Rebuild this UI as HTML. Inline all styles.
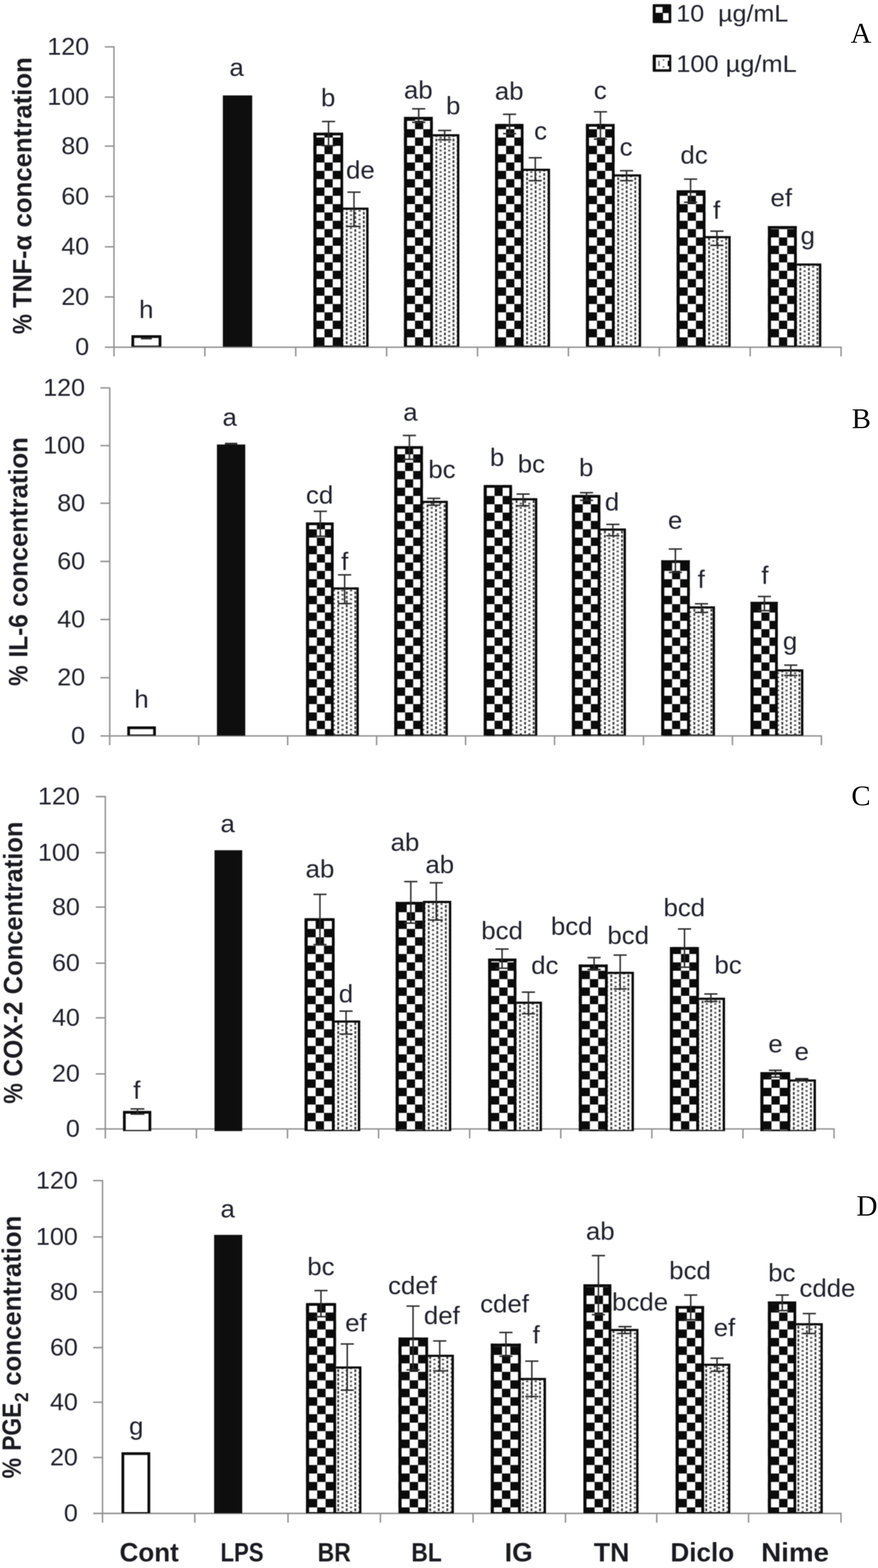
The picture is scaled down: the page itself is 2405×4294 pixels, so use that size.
<!DOCTYPE html>
<html lang="en">
<head>
<meta charset="utf-8">
<title>Cytokine concentration bar charts</title>
<style>
html,body{margin:0;padding:0;background:#fff;}
body{width:2405px;height:4294px;overflow:hidden;font-family:"Liberation Sans", "DejaVu Sans", sans-serif;}
svg{display:block;}
text{white-space:pre;}
</style>
</head>
<body>
<svg width="2405" height="4294" viewBox="0 0 2405 4294">
<defs>
<pattern id="cka" patternUnits="userSpaceOnUse" width="45.2" height="45.6"><rect width="45.2" height="45.6" fill="#fff"/><rect x="22.6" y="0" width="22.6" height="22.8" fill="#0b0b0b"/><rect x="0" y="22.8" width="22.6" height="22.8" fill="#0b0b0b"/></pattern>
<pattern id="dta" patternUnits="userSpaceOnUse" width="23.4" height="11.8"><rect width="23.4" height="11.8" fill="#fff"/><rect x="0" y="0" width="5" height="7.3" fill="#3a3a3a"/><rect x="11.2" y="6.6" width="6" height="4.7" fill="#555"/></pattern>
<pattern id="ckb" patternUnits="userSpaceOnUse" width="44.2" height="45.6"><rect width="44.2" height="45.6" fill="#fff"/><rect x="22.1" y="0" width="22.1" height="22.8" fill="#0b0b0b"/><rect x="0" y="22.8" width="22.1" height="22.8" fill="#0b0b0b"/></pattern>
<pattern id="dtb" patternUnits="userSpaceOnUse" width="23.4" height="11.9"><rect width="23.4" height="11.9" fill="#fff"/><rect x="0" y="0" width="5" height="7.4" fill="#3a3a3a"/><rect x="11.2" y="6.7" width="6" height="4.8" fill="#555"/></pattern>
<pattern id="ckc" patternUnits="userSpaceOnUse" width="45.4" height="45.8"><rect width="45.4" height="45.8" fill="#fff"/><rect x="22.7" y="0" width="22.7" height="22.9" fill="#0b0b0b"/><rect x="0" y="22.9" width="22.7" height="22.9" fill="#0b0b0b"/></pattern>
<pattern id="dtc" patternUnits="userSpaceOnUse" width="23.4" height="11.9"><rect width="23.4" height="11.9" fill="#fff"/><rect x="0" y="0" width="5" height="7.4" fill="#3a3a3a"/><rect x="11.2" y="6.7" width="6" height="4.8" fill="#555"/></pattern>
<pattern id="ckd" patternUnits="userSpaceOnUse" width="46" height="46.4"><rect width="46" height="46.4" fill="#fff"/><rect x="23" y="0" width="23" height="23.2" fill="#0b0b0b"/><rect x="0" y="23.2" width="23" height="23.2" fill="#0b0b0b"/></pattern>
<pattern id="dtd" patternUnits="userSpaceOnUse" width="23.4" height="11.9"><rect width="23.4" height="11.9" fill="#fff"/><rect x="0" y="0" width="5" height="7.4" fill="#3a3a3a"/><rect x="11.2" y="6.7" width="6" height="4.8" fill="#555"/></pattern>
<filter id="soft" color-interpolation-filters="sRGB"><feGaussianBlur stdDeviation="0.9"/></filter>
</defs>
<rect width="2405" height="4294" fill="#fff"/>
<g id="panel-a" filter="url(#soft)">
<path d="M312.2 126.5V975.9M287.2 950.9H2305.7M287.2 813.1H312.2M287.2 675.9H312.2M287.2 538.2H312.2M287.2 400.2H312.2M287.2 265.8H312.2M287.2 128.4H312.2M561.1 950.9V975.9M810.1 950.9V975.9M1059 950.9V975.9M1308 950.9V975.9M1557 950.9V975.9M1805.9 950.9V975.9M2054.8 950.9V975.9M2303.8 950.9V975.9" stroke="#8e8e8e" stroke-width="3.8" fill="none"/>
<rect x="360" y="918" width="82" height="31.5" fill="#fff"/>
<path d="M360 918H442V949.5H360ZM367.5 925.5V946.5H434.5V925.5Z" fill="#0a0a0a" fill-rule="evenodd"/>
<rect x="610.4" y="261.3" width="80.4" height="688.2" fill="#0e0e0e"/>
<g transform="translate(947.3 757.4)"><rect x="-13.3" y="-188.9" width="75.5" height="381" fill="url(#dta)"/></g>
<path d="M934 568.5H1009.5V949.5H934ZM940 574.5V946.5H1003V574.5Z" fill="#0a0a0a" fill-rule="evenodd"/>
<g transform="translate(866.2 901)"><rect x="-7.7" y="-537.7" width="81.5" height="586.2" fill="url(#cka)"/></g>
<path d="M858.5 363.3H940V949.5H858.5ZM867 370.8V946.5H932.5V370.8Z" fill="#0a0a0a" fill-rule="evenodd"/>
<g transform="translate(1192.8 757.4)"><rect x="-13.3" y="-389.9" width="78.8" height="582" fill="url(#dta)"/></g>
<path d="M1179.5 367.5H1258.3V949.5H1179.5ZM1185.5 373.5V946.5H1251.8V373.5Z" fill="#0a0a0a" fill-rule="evenodd"/>
<g transform="translate(1091.6 901)"><rect x="14.9" y="-581" width="79" height="629.5" fill="url(#cka)"/></g>
<path d="M1106.5 320H1185.5V949.5H1106.5ZM1115 327.5V946.5H1178V327.5Z" fill="#0a0a0a" fill-rule="evenodd"/>
<g transform="translate(1441.3 757.4)"><rect x="-13.3" y="-295.4" width="78.7" height="487.5" fill="url(#dta)"/></g>
<path d="M1428 462H1506.7V949.5H1428ZM1434 468V946.5H1500.2V468Z" fill="#0a0a0a" fill-rule="evenodd"/>
<g transform="translate(1363.7 901)"><rect x="-7.7" y="-561.5" width="78" height="610" fill="url(#cka)"/></g>
<path d="M1356 339.5H1434V949.5H1356ZM1364.5 347V946.5H1426.5V347Z" fill="#0a0a0a" fill-rule="evenodd"/>
<g transform="translate(1690.8 757.4)"><rect x="-13.3" y="-279.9" width="78.7" height="472" fill="url(#dta)"/></g>
<path d="M1677.5 477.5H1756.2V949.5H1677.5ZM1683.5 483.5V946.5H1749.7V483.5Z" fill="#0a0a0a" fill-rule="evenodd"/>
<g transform="translate(1590 901)"><rect x="14.9" y="-561.5" width="78.6" height="610" fill="url(#cka)"/></g>
<path d="M1604.9 339.5H1683.5V949.5H1604.9ZM1613.4 347V946.5H1676V347Z" fill="#0a0a0a" fill-rule="evenodd"/>
<g transform="translate(1939.8 757.4)"><rect x="-13.3" y="-110.9" width="74.9" height="303" fill="url(#dta)"/></g>
<path d="M1926.5 646.5H2001.4V949.5H1926.5ZM1932.5 652.5V946.5H1994.9V652.5Z" fill="#0a0a0a" fill-rule="evenodd"/>
<g transform="translate(1861.1 901)"><rect x="-7.7" y="-380" width="79.1" height="428.5" fill="url(#cka)"/></g>
<path d="M1853.4 521H1932.5V949.5H1853.4ZM1861.9 528.5V946.5H1925V528.5Z" fill="#0a0a0a" fill-rule="evenodd"/>
<g transform="translate(2189.8 757.4)"><rect x="-13.3" y="-35.9" width="73.2" height="228" fill="url(#dta)"/></g>
<path d="M2176.5 721.5H2249.7V949.5H2176.5ZM2182.5 727.5V946.5H2243.2V727.5Z" fill="#0a0a0a" fill-rule="evenodd"/>
<g transform="translate(2088.5 901)"><rect x="14.9" y="-282" width="79.1" height="330.5" fill="url(#cka)"/></g>
<path d="M2103.4 619H2182.5V949.5H2103.4ZM2111.9 626.5V946.5H2175V626.5Z" fill="#0a0a0a" fill-rule="evenodd"/>
<path d="M401 926.5V927.5M386 926.5H416M386 927.5H416" stroke="#2b2b2b" stroke-width="4" fill="none"/>
<path d="M899.9 332.8V399M881.9 332.8H917.9M881.9 399H917.9" stroke="#2b2b2b" stroke-width="4" fill="none"/>
<path d="M969.6 526.3V620M951.6 526.3H987.6M951.6 620H987.6" stroke="#2b2b2b" stroke-width="4" fill="none"/>
<path d="M1146.9 297.9V335M1128.9 297.9H1164.9M1128.9 335H1164.9" stroke="#2b2b2b" stroke-width="4" fill="none"/>
<path d="M1217.9 357.2V382.7M1199.9 357.2H1235.9M1199.9 382.7H1235.9" stroke="#2b2b2b" stroke-width="4" fill="none"/>
<path d="M1395.8 312.9V366M1377.8 312.9H1413.8M1377.8 366H1413.8" stroke="#2b2b2b" stroke-width="4" fill="none"/>
<path d="M1466.2 432V494.7M1448.2 432H1484.2M1448.2 494.7H1484.2" stroke="#2b2b2b" stroke-width="4" fill="none"/>
<path d="M1644.7 306.2V381M1626.7 306.2H1662.7M1626.7 381H1662.7" stroke="#2b2b2b" stroke-width="4" fill="none"/>
<path d="M1716.2 467.5V494.7M1698.2 467.5H1734.2M1698.2 494.7H1734.2" stroke="#2b2b2b" stroke-width="4" fill="none"/>
<path d="M1891.6 490.6V554M1873.6 490.6H1909.6M1873.6 554H1909.6" stroke="#2b2b2b" stroke-width="4" fill="none"/>
<path d="M1963.7 633V671.9M1945.7 633H1981.7M1945.7 671.9H1981.7" stroke="#2b2b2b" stroke-width="4" fill="none"/>
<text x="206" y="972.4" font-size="66" font-family='"Liberation Sans", "DejaVu Sans", sans-serif' fill="#21222d" textLength="38.2" lengthAdjust="spacingAndGlyphs">0</text>
<text x="167.9" y="834.6" font-size="66" font-family='"Liberation Sans", "DejaVu Sans", sans-serif' fill="#21222d" textLength="76.4" lengthAdjust="spacingAndGlyphs">20</text>
<text x="167.9" y="697.4" font-size="66" font-family='"Liberation Sans", "DejaVu Sans", sans-serif' fill="#21222d" textLength="76.4" lengthAdjust="spacingAndGlyphs">40</text>
<text x="167.9" y="559.7" font-size="66" font-family='"Liberation Sans", "DejaVu Sans", sans-serif' fill="#21222d" textLength="76.4" lengthAdjust="spacingAndGlyphs">60</text>
<text x="167.9" y="421.7" font-size="66" font-family='"Liberation Sans", "DejaVu Sans", sans-serif' fill="#21222d" textLength="76.4" lengthAdjust="spacingAndGlyphs">80</text>
<text x="129.6" y="287.3" font-size="66" font-family='"Liberation Sans", "DejaVu Sans", sans-serif' fill="#21222d" textLength="114.5" lengthAdjust="spacingAndGlyphs">100</text>
<text x="129.6" y="149.9" font-size="66" font-family='"Liberation Sans", "DejaVu Sans", sans-serif' fill="#21222d" textLength="114.5" lengthAdjust="spacingAndGlyphs">120</text>
<text x="380.9" y="870.5" font-size="68" font-family='"Liberation Sans", "DejaVu Sans", sans-serif' fill="#21222d" textLength="39.3" lengthAdjust="spacingAndGlyphs">h</text>
<text x="628.5" y="208" font-size="68" font-family='"Liberation Sans", "DejaVu Sans", sans-serif' fill="#21222d" textLength="39.3" lengthAdjust="spacingAndGlyphs">a</text>
<text x="879.2" y="291.2" font-size="68" font-family='"Liberation Sans", "DejaVu Sans", sans-serif' fill="#21222d" textLength="39.3" lengthAdjust="spacingAndGlyphs">b</text>
<text x="947.8" y="489.2" font-size="68" font-family='"Liberation Sans", "DejaVu Sans", sans-serif' fill="#21222d" textLength="78.7" lengthAdjust="spacingAndGlyphs">de</text>
<text x="1106.5" y="270.2" font-size="68" font-family='"Liberation Sans", "DejaVu Sans", sans-serif' fill="#21222d" textLength="78.7" lengthAdjust="spacingAndGlyphs">ab</text>
<text x="1221.7" y="313.4" font-size="68" font-family='"Liberation Sans", "DejaVu Sans", sans-serif' fill="#21222d" textLength="39.3" lengthAdjust="spacingAndGlyphs">b</text>
<text x="1355.4" y="273" font-size="68" font-family='"Liberation Sans", "DejaVu Sans", sans-serif' fill="#21222d" textLength="78.7" lengthAdjust="spacingAndGlyphs">ab</text>
<text x="1463" y="381.6" font-size="68" font-family='"Liberation Sans", "DejaVu Sans", sans-serif' fill="#21222d" textLength="35.4" lengthAdjust="spacingAndGlyphs">c</text>
<text x="1626.6" y="271" font-size="68" font-family='"Liberation Sans", "DejaVu Sans", sans-serif' fill="#21222d" textLength="35.4" lengthAdjust="spacingAndGlyphs">c</text>
<text x="1697.3" y="425.5" font-size="68" font-family='"Liberation Sans", "DejaVu Sans", sans-serif' fill="#21222d" textLength="35.4" lengthAdjust="spacingAndGlyphs">c</text>
<text x="1863.8" y="447.9" font-size="68" font-family='"Liberation Sans", "DejaVu Sans", sans-serif' fill="#21222d" textLength="74.7" lengthAdjust="spacingAndGlyphs">dc</text>
<text x="1953.3" y="598.7" font-size="68" font-family='"Liberation Sans", "DejaVu Sans", sans-serif' fill="#21222d" textLength="19.6" lengthAdjust="spacingAndGlyphs">f</text>
<text x="2110.6" y="565.4" font-size="68" font-family='"Liberation Sans", "DejaVu Sans", sans-serif' fill="#21222d" textLength="59" lengthAdjust="spacingAndGlyphs">ef</text>
<text x="2193.1" y="669" font-size="68" font-family='"Liberation Sans", "DejaVu Sans", sans-serif' fill="#21222d" textLength="39.3" lengthAdjust="spacingAndGlyphs">g</text>
<text transform="translate(86 915) rotate(-90)" font-size="72" font-weight="bold" font-family='"Liberation Sans", "DejaVu Sans", sans-serif' fill="#1b1b22" textLength="54.9" lengthAdjust="spacingAndGlyphs">%</text>
<text transform="translate(86 843.3) rotate(-90)" font-size="72" font-weight="bold" font-family='"Liberation Sans", "DejaVu Sans", sans-serif' fill="#1b1b22" textLength="199.8" lengthAdjust="spacingAndGlyphs">TNF-α</text>
<text transform="translate(86 623) rotate(-90)" font-size="72" font-weight="bold" font-family='"Liberation Sans", "DejaVu Sans", sans-serif' fill="#1b1b22" textLength="466.4" lengthAdjust="spacingAndGlyphs">concentration</text>
</g>
<g id="panel-b" filter="url(#soft)">
<path d="M300.6 1060.5V2040.8M275.1 2015.3H2251.9M275.1 1855.8H300.6M275.1 1696.5H300.6M275.1 1537.5H300.6M275.1 1378.2H300.6M275.1 1220.3H300.6M275.1 1062.4H300.6M544.3 2015.3V2040.8M788 2015.3V2040.8M1031.6 2015.3V2040.8M1275.3 2015.3V2040.8M1519 2015.3V2040.8M1762.7 2015.3V2040.8M2006.3 2015.3V2040.8M2250 2015.3V2040.8" stroke="#8e8e8e" stroke-width="3.8" fill="none"/>
<rect x="348.6" y="1989.2" width="78.4" height="25.3" fill="#fff"/>
<path d="M348.6 1989.2H427V2014.5H348.6ZM356.1 1996.7V2011.5H419.5V1996.7Z" fill="#0a0a0a" fill-rule="evenodd"/>
<rect x="594.2" y="1217.3" width="77.6" height="797.2" fill="#0e0e0e"/>
<g transform="translate(923.9 1620)"><rect x="-15.9" y="-11.4" width="74.8" height="405.9" fill="url(#dtb)"/></g>
<path d="M908 1608.6H982.8V2014.5H908ZM914 1614.6V2011.5H976.3V1614.6Z" fill="#0a0a0a" fill-rule="evenodd"/>
<g transform="translate(845.9 1472.2)"><rect x="-7.7" y="-41.5" width="75.8" height="583.8" fill="url(#ckb)"/></g>
<path d="M838.2 1430.7H914V2014.5H838.2ZM846.7 1438.2V2011.5H906.5V1438.2Z" fill="#0a0a0a" fill-rule="evenodd"/>
<g transform="translate(1168.4 1620)"><rect x="-15.9" y="-248.6" width="74.2" height="643.1" fill="url(#dtb)"/></g>
<path d="M1152.5 1371.4H1226.7V2014.5H1152.5ZM1158.5 1377.4V2011.5H1220.2V1377.4Z" fill="#0a0a0a" fill-rule="evenodd"/>
<g transform="translate(1065.5 1472.2)"><rect x="14.4" y="-250.5" width="78.6" height="792.8" fill="url(#ckb)"/></g>
<path d="M1079.9 1221.7H1158.5V2014.5H1079.9ZM1088.4 1229.2V2011.5H1151V1229.2Z" fill="#0a0a0a" fill-rule="evenodd"/>
<g transform="translate(1412.4 1620)"><rect x="-15.9" y="-255.8" width="75.2" height="650.3" fill="url(#dtb)"/></g>
<path d="M1396.5 1364.2H1471.7V2014.5H1396.5ZM1402.5 1370.2V2011.5H1465.2V1370.2Z" fill="#0a0a0a" fill-rule="evenodd"/>
<g transform="translate(1332.6 1472.2)"><rect x="-7.7" y="-144" width="77.6" height="686.3" fill="url(#ckb)"/></g>
<path d="M1324.9 1328.2H1402.5V2014.5H1324.9ZM1333.4 1335.7V2011.5H1395V1335.7Z" fill="#0a0a0a" fill-rule="evenodd"/>
<g transform="translate(1654.4 1620)"><rect x="-15.9" y="-172.8" width="76" height="567.3" fill="url(#dtb)"/></g>
<path d="M1638.5 1447.2H1714.5V2014.5H1638.5ZM1644.5 1453.2V2011.5H1708V1453.2Z" fill="#0a0a0a" fill-rule="evenodd"/>
<g transform="translate(1552.2 1472.2)"><rect x="14.4" y="-116.6" width="77.9" height="658.9" fill="url(#ckb)"/></g>
<path d="M1566.6 1355.6H1644.5V2014.5H1566.6ZM1575.1 1363.1V2011.5H1637V1363.1Z" fill="#0a0a0a" fill-rule="evenodd"/>
<g transform="translate(1899.4 1620)"><rect x="-15.9" y="40.4" width="74.9" height="354.1" fill="url(#dtb)"/></g>
<path d="M1883.5 1660.4H1958.4V2014.5H1883.5ZM1889.5 1666.4V2011.5H1951.9V1666.4Z" fill="#0a0a0a" fill-rule="evenodd"/>
<g transform="translate(1818.9 1472.2)"><rect x="-7.7" y="62.1" width="78.3" height="480.2" fill="url(#ckb)"/></g>
<path d="M1811.2 1534.3H1889.5V2014.5H1811.2ZM1819.7 1541.8V2011.5H1882V1541.8Z" fill="#0a0a0a" fill-rule="evenodd"/>
<g transform="translate(2140.4 1620)"><rect x="-15.9" y="212.9" width="76" height="181.6" fill="url(#dtb)"/></g>
<path d="M2124.5 1832.9H2200.5V2014.5H2124.5ZM2130.5 1838.9V2011.5H2194V1838.9Z" fill="#0a0a0a" fill-rule="evenodd"/>
<g transform="translate(2041.4 1472.2)"><rect x="14.4" y="175.7" width="74.7" height="366.6" fill="url(#ckb)"/></g>
<path d="M2055.8 1647.9H2130.5V2014.5H2055.8ZM2064.3 1655.4V2011.5H2123V1655.4Z" fill="#0a0a0a" fill-rule="evenodd"/>
<path d="M633 1214.5V1216M616 1214.5H650M616 1216H650" stroke="#2b2b2b" stroke-width="4" fill="none"/>
<path d="M877.5 1400.2V1468.4M859.5 1400.2H895.5M859.5 1468.4H895.5" stroke="#2b2b2b" stroke-width="4" fill="none"/>
<path d="M944 1574.3V1653M926 1574.3H962M926 1653H962" stroke="#2b2b2b" stroke-width="4" fill="none"/>
<path d="M1121.4 1192.4V1257.8M1103.4 1192.4H1139.4M1103.4 1257.8H1139.4" stroke="#2b2b2b" stroke-width="4" fill="none"/>
<path d="M1187.9 1364.7V1383.6M1169.9 1364.7H1205.9M1169.9 1383.6H1205.9" stroke="#2b2b2b" stroke-width="4" fill="none"/>
<path d="M1432.9 1353.1V1385.3M1414.9 1353.1H1450.9M1414.9 1385.3H1450.9" stroke="#2b2b2b" stroke-width="4" fill="none"/>
<path d="M1606.6 1349.3V1370M1588.6 1349.3H1624.6M1588.6 1370H1624.6" stroke="#2b2b2b" stroke-width="4" fill="none"/>
<path d="M1678.7 1435.9V1467.2M1660.7 1435.9H1696.7M1660.7 1467.2H1696.7" stroke="#2b2b2b" stroke-width="4" fill="none"/>
<path d="M1850 1503.6V1567.6M1832 1503.6H1868M1832 1567.6H1868" stroke="#2b2b2b" stroke-width="4" fill="none"/>
<path d="M1921.4 1653.5V1677.3M1903.4 1653.5H1939.4M1903.4 1677.3H1939.4" stroke="#2b2b2b" stroke-width="4" fill="none"/>
<path d="M2093.9 1633.4V1672.3M2075.9 1633.4H2111.9M2075.9 1672.3H2111.9" stroke="#2b2b2b" stroke-width="4" fill="none"/>
<path d="M2166 1821.6V1849.8M2148 1821.6H2184M2148 1849.8H2184" stroke="#2b2b2b" stroke-width="4" fill="none"/>
<text x="194.8" y="2036.8" font-size="66" font-family='"Liberation Sans", "DejaVu Sans", sans-serif' fill="#21222d" textLength="38.2" lengthAdjust="spacingAndGlyphs">0</text>
<text x="156.7" y="1877.3" font-size="66" font-family='"Liberation Sans", "DejaVu Sans", sans-serif' fill="#21222d" textLength="76.4" lengthAdjust="spacingAndGlyphs">20</text>
<text x="156.7" y="1718" font-size="66" font-family='"Liberation Sans", "DejaVu Sans", sans-serif' fill="#21222d" textLength="76.4" lengthAdjust="spacingAndGlyphs">40</text>
<text x="156.7" y="1559" font-size="66" font-family='"Liberation Sans", "DejaVu Sans", sans-serif' fill="#21222d" textLength="76.4" lengthAdjust="spacingAndGlyphs">60</text>
<text x="156.7" y="1399.7" font-size="66" font-family='"Liberation Sans", "DejaVu Sans", sans-serif' fill="#21222d" textLength="76.4" lengthAdjust="spacingAndGlyphs">80</text>
<text x="118.4" y="1241.8" font-size="66" font-family='"Liberation Sans", "DejaVu Sans", sans-serif' fill="#21222d" textLength="114.5" lengthAdjust="spacingAndGlyphs">100</text>
<text x="118.4" y="1083.9" font-size="66" font-family='"Liberation Sans", "DejaVu Sans", sans-serif' fill="#21222d" textLength="114.5" lengthAdjust="spacingAndGlyphs">120</text>
<text x="368.1" y="1937.9" font-size="68" font-family='"Liberation Sans", "DejaVu Sans", sans-serif' fill="#21222d" textLength="39.3" lengthAdjust="spacingAndGlyphs">h</text>
<text x="609.6" y="1166.3" font-size="68" font-family='"Liberation Sans", "DejaVu Sans", sans-serif' fill="#21222d" textLength="39.3" lengthAdjust="spacingAndGlyphs">a</text>
<text x="838.1" y="1378.6" font-size="68" font-family='"Liberation Sans", "DejaVu Sans", sans-serif' fill="#21222d" textLength="74.7" lengthAdjust="spacingAndGlyphs">cd</text>
<text x="934.6" y="1560.5" font-size="68" font-family='"Liberation Sans", "DejaVu Sans", sans-serif' fill="#21222d" textLength="19.6" lengthAdjust="spacingAndGlyphs">f</text>
<text x="1104.6" y="1152.4" font-size="68" font-family='"Liberation Sans", "DejaVu Sans", sans-serif' fill="#21222d" textLength="39.3" lengthAdjust="spacingAndGlyphs">a</text>
<text x="1173.2" y="1309.3" font-size="68" font-family='"Liberation Sans", "DejaVu Sans", sans-serif' fill="#21222d" textLength="74.7" lengthAdjust="spacingAndGlyphs">bc</text>
<text x="1342" y="1275.5" font-size="68" font-family='"Liberation Sans", "DejaVu Sans", sans-serif' fill="#21222d" textLength="39.3" lengthAdjust="spacingAndGlyphs">b</text>
<text x="1418.2" y="1293.8" font-size="68" font-family='"Liberation Sans", "DejaVu Sans", sans-serif' fill="#21222d" textLength="74.7" lengthAdjust="spacingAndGlyphs">bc</text>
<text x="1586.1" y="1304.2" font-size="68" font-family='"Liberation Sans", "DejaVu Sans", sans-serif' fill="#21222d" textLength="39.3" lengthAdjust="spacingAndGlyphs">b</text>
<text x="1656.7" y="1398.2" font-size="68" font-family='"Liberation Sans", "DejaVu Sans", sans-serif' fill="#21222d" textLength="39.3" lengthAdjust="spacingAndGlyphs">d</text>
<text x="1829.7" y="1448.4" font-size="68" font-family='"Liberation Sans", "DejaVu Sans", sans-serif' fill="#21222d" textLength="39.3" lengthAdjust="spacingAndGlyphs">e</text>
<text x="1911" y="1609.6" font-size="68" font-family='"Liberation Sans", "DejaVu Sans", sans-serif' fill="#21222d" textLength="19.6" lengthAdjust="spacingAndGlyphs">f</text>
<text x="2085.4" y="1598.9" font-size="68" font-family='"Liberation Sans", "DejaVu Sans", sans-serif' fill="#21222d" textLength="19.6" lengthAdjust="spacingAndGlyphs">f</text>
<text x="2144.6" y="1779" font-size="68" font-family='"Liberation Sans", "DejaVu Sans", sans-serif' fill="#21222d" textLength="39.3" lengthAdjust="spacingAndGlyphs">g</text>
<text transform="translate(74.6 1878.3) rotate(-90)" font-size="72" font-weight="bold" font-family='"Liberation Sans", "DejaVu Sans", sans-serif' fill="#1b1b22" textLength="56.2" lengthAdjust="spacingAndGlyphs">%</text>
<text transform="translate(74.6 1800.6) rotate(-90)" font-size="72" font-weight="bold" font-family='"Liberation Sans", "DejaVu Sans", sans-serif' fill="#1b1b22" textLength="118.8" lengthAdjust="spacingAndGlyphs">IL-6</text>
<text transform="translate(74.6 1661.8) rotate(-90)" font-size="72" font-weight="bold" font-family='"Liberation Sans", "DejaVu Sans", sans-serif' fill="#1b1b22" textLength="464.8" lengthAdjust="spacingAndGlyphs">concentration</text>
</g>
<g id="panel-c" filter="url(#soft)">
<path d="M288.5 2179.6V3117.7M262.5 3091.7H2286.5M262.5 2940.9H288.5M262.5 2787.4H288.5M262.5 2637.7H288.5M262.5 2484.2H288.5M262.5 2335H288.5M262.5 2181.5H288.5M538 3091.7V3117.7M787.5 3091.7V3117.7M1037 3091.7V3117.7M1286.5 3091.7V3117.7M1536.1 3091.7V3117.7M1785.6 3091.7V3117.7M2035.1 3091.7V3117.7M2284.6 3091.7V3117.7" stroke="#8e8e8e" stroke-width="3.8" fill="none"/>
<rect x="336.9" y="3042.2" width="77.5" height="55.3" fill="#fff"/>
<path d="M336.9 3042.2H414.4V3097.5H336.9ZM344.4 3049.7V3094.5H406.9V3049.7Z" fill="#0a0a0a" fill-rule="evenodd"/>
<rect x="587.6" y="2328.4" width="75.9" height="769.1" fill="#0e0e0e"/>
<g transform="translate(923.9 2800)"><rect x="-13.4" y="-5.4" width="76.2" height="302.9" fill="url(#dtc)"/></g>
<path d="M910.5 2794.6H986.7V3097.5H910.5ZM916.5 2800.6V3094.5H980.2V2800.6Z" fill="#0a0a0a" fill-rule="evenodd"/>
<g transform="translate(842 2566.8)"><rect x="-7.7" y="-52.2" width="82.2" height="582.9" fill="url(#ckc)"/></g>
<path d="M834.3 2514.6H916.5V3097.5H834.3ZM842.8 2522.1V3094.5H909V2522.1Z" fill="#0a0a0a" fill-rule="evenodd"/>
<g transform="translate(1068.8 2566.8)"><rect x="15" y="-97.1" width="80.7" height="627.8" fill="url(#ckc)"/></g>
<path d="M1083.8 2469.7H1164.5V3097.5H1083.8ZM1092.3 2477.2V3094.5H1157V2477.2Z" fill="#0a0a0a" fill-rule="evenodd"/>
<g transform="translate(1171.9 2800)"><rect x="-13.4" y="-333" width="77.6" height="630.5" fill="url(#dtc)"/></g>
<path d="M1158.5 2467H1236.1V3097.5H1158.5ZM1164.5 2473V3094.5H1229.6V2473Z" fill="#0a0a0a" fill-rule="evenodd"/>
<g transform="translate(1421.9 2800)"><rect x="-13.4" y="-57" width="76" height="354.5" fill="url(#dtc)"/></g>
<path d="M1408.5 2743H1484.5V3097.5H1408.5ZM1414.5 2749V3094.5H1478V2749Z" fill="#0a0a0a" fill-rule="evenodd"/>
<g transform="translate(1344.8 2566.8)"><rect x="-7.7" y="58.2" width="77.4" height="472.5" fill="url(#ckc)"/></g>
<path d="M1337.1 2625H1414.5V3097.5H1337.1ZM1345.6 2632.5V3094.5H1407V2632.5Z" fill="#0a0a0a" fill-rule="evenodd"/>
<g transform="translate(1671.9 2800)"><rect x="-13.4" y="-138.7" width="77.9" height="436.2" fill="url(#dtc)"/></g>
<path d="M1658.5 2661.3H1736.4V3097.5H1658.5ZM1664.5 2667.3V3094.5H1729.9V2667.3Z" fill="#0a0a0a" fill-rule="evenodd"/>
<g transform="translate(1570.4 2566.8)"><rect x="15" y="74.4" width="79.1" height="456.3" fill="url(#ckc)"/></g>
<path d="M1585.4 2641.2H1664.5V3097.5H1585.4ZM1593.9 2648.7V3094.5H1657V2648.7Z" fill="#0a0a0a" fill-rule="evenodd"/>
<g transform="translate(1921.9 2800)"><rect x="-13.4" y="-67.8" width="77.5" height="365.3" fill="url(#dtc)"/></g>
<path d="M1908.5 2732.2H1986V3097.5H1908.5ZM1914.5 2738.2V3094.5H1979.5V2738.2Z" fill="#0a0a0a" fill-rule="evenodd"/>
<g transform="translate(1842.7 2566.8)"><rect x="-7.7" y="26.8" width="79.5" height="503.9" fill="url(#ckc)"/></g>
<path d="M1835 2593.6H1914.5V3097.5H1835ZM1843.5 2601.1V3094.5H1907V2601.1Z" fill="#0a0a0a" fill-rule="evenodd"/>
<g transform="translate(2171.9 2800)"><rect x="-13.4" y="156.1" width="76.5" height="141.4" fill="url(#dtc)"/></g>
<path d="M2158.5 2956.1H2235V3097.5H2158.5ZM2164.5 2962.1V3094.5H2228.5V2962.1Z" fill="#0a0a0a" fill-rule="evenodd"/>
<g transform="translate(2067.8 2566.8)"><rect x="15" y="369.2" width="81.7" height="161.5" fill="url(#ckc)"/></g>
<path d="M2082.8 2936H2164.5V3097.5H2082.8ZM2091.3 2943.5V3094.5H2157V2943.5Z" fill="#0a0a0a" fill-rule="evenodd"/>
<path d="M376.6 3036.8V3051M357.6 3036.8H395.6M357.6 3051H395.6" stroke="#2b2b2b" stroke-width="4" fill="none"/>
<path d="M876.4 2449.2V2586.7M858.4 2449.2H894.4M858.4 2586.7H894.4" stroke="#2b2b2b" stroke-width="4" fill="none"/>
<path d="M947.9 2769.1V2831.7M929.9 2769.1H965.9M929.9 2831.7H965.9" stroke="#2b2b2b" stroke-width="4" fill="none"/>
<path d="M1125.3 2414.3V2528M1107.3 2414.3H1143.3M1107.3 2528H1143.3" stroke="#2b2b2b" stroke-width="4" fill="none"/>
<path d="M1195.1 2417.6V2519.6M1177.1 2417.6H1213.1M1177.1 2519.6H1213.1" stroke="#2b2b2b" stroke-width="4" fill="none"/>
<path d="M1375.3 2598.9V2651.6M1357.3 2598.9H1393.3M1357.3 2651.6H1393.3" stroke="#2b2b2b" stroke-width="4" fill="none"/>
<path d="M1447.4 2717V2776.3M1429.4 2717H1465.4M1429.4 2776.3H1465.4" stroke="#2b2b2b" stroke-width="4" fill="none"/>
<path d="M1627.3 2622.4V2655M1609.3 2622.4H1645.3M1609.3 2655H1645.3" stroke="#2b2b2b" stroke-width="4" fill="none"/>
<path d="M1698.8 2615.5V2708.3M1680.8 2615.5H1716.8M1680.8 2708.3H1716.8" stroke="#2b2b2b" stroke-width="4" fill="none"/>
<path d="M1875 2544V2648.8M1857 2544H1893M1857 2648.8H1893" stroke="#2b2b2b" stroke-width="4" fill="none"/>
<path d="M1947.2 2722.1V2742.8M1929.2 2722.1H1965.2M1929.2 2742.8H1965.2" stroke="#2b2b2b" stroke-width="4" fill="none"/>
<path d="M2124 2931V2949.8M2106 2931H2142M2106 2949.8H2142" stroke="#2b2b2b" stroke-width="4" fill="none"/>
<path d="M2196.1 2954V2960M2178.1 2954H2214.1M2178.1 2960H2214.1" stroke="#2b2b2b" stroke-width="4" fill="none"/>
<text x="180.5" y="3113.2" font-size="66" font-family='"Liberation Sans", "DejaVu Sans", sans-serif' fill="#21222d" textLength="38.2" lengthAdjust="spacingAndGlyphs">0</text>
<text x="142.4" y="2962.4" font-size="66" font-family='"Liberation Sans", "DejaVu Sans", sans-serif' fill="#21222d" textLength="76.4" lengthAdjust="spacingAndGlyphs">20</text>
<text x="142.4" y="2808.9" font-size="66" font-family='"Liberation Sans", "DejaVu Sans", sans-serif' fill="#21222d" textLength="76.4" lengthAdjust="spacingAndGlyphs">40</text>
<text x="142.4" y="2659.2" font-size="66" font-family='"Liberation Sans", "DejaVu Sans", sans-serif' fill="#21222d" textLength="76.4" lengthAdjust="spacingAndGlyphs">60</text>
<text x="142.4" y="2505.7" font-size="66" font-family='"Liberation Sans", "DejaVu Sans", sans-serif' fill="#21222d" textLength="76.4" lengthAdjust="spacingAndGlyphs">80</text>
<text x="104.1" y="2356.5" font-size="66" font-family='"Liberation Sans", "DejaVu Sans", sans-serif' fill="#21222d" textLength="114.5" lengthAdjust="spacingAndGlyphs">100</text>
<text x="104.1" y="2203" font-size="66" font-family='"Liberation Sans", "DejaVu Sans", sans-serif' fill="#21222d" textLength="114.5" lengthAdjust="spacingAndGlyphs">120</text>
<text x="364.9" y="3009.1" font-size="68" font-family='"Liberation Sans", "DejaVu Sans", sans-serif' fill="#21222d" textLength="19.6" lengthAdjust="spacingAndGlyphs">f</text>
<text x="604.1" y="2278.5" font-size="68" font-family='"Liberation Sans", "DejaVu Sans", sans-serif' fill="#21222d" textLength="39.3" lengthAdjust="spacingAndGlyphs">a</text>
<text x="837.1" y="2403.2" font-size="68" font-family='"Liberation Sans", "DejaVu Sans", sans-serif' fill="#21222d" textLength="78.7" lengthAdjust="spacingAndGlyphs">ab</text>
<text x="927.9" y="2744.7" font-size="68" font-family='"Liberation Sans", "DejaVu Sans", sans-serif' fill="#21222d" textLength="39.3" lengthAdjust="spacingAndGlyphs">d</text>
<text x="1069.9" y="2330" font-size="68" font-family='"Liberation Sans", "DejaVu Sans", sans-serif' fill="#21222d" textLength="78.7" lengthAdjust="spacingAndGlyphs">ab</text>
<text x="1165.2" y="2391" font-size="68" font-family='"Liberation Sans", "DejaVu Sans", sans-serif' fill="#21222d" textLength="78.7" lengthAdjust="spacingAndGlyphs">ab</text>
<text x="1318.3" y="2572.3" font-size="68" font-family='"Liberation Sans", "DejaVu Sans", sans-serif' fill="#21222d" textLength="114" lengthAdjust="spacingAndGlyphs">bcd</text>
<text x="1455" y="2666.5" font-size="68" font-family='"Liberation Sans", "DejaVu Sans", sans-serif' fill="#21222d" textLength="74.7" lengthAdjust="spacingAndGlyphs">dc</text>
<text x="1508.9" y="2559.7" font-size="68" font-family='"Liberation Sans", "DejaVu Sans", sans-serif' fill="#21222d" textLength="114" lengthAdjust="spacingAndGlyphs">bcd</text>
<text x="1663.8" y="2584.8" font-size="68" font-family='"Liberation Sans", "DejaVu Sans", sans-serif' fill="#21222d" textLength="114" lengthAdjust="spacingAndGlyphs">bcd</text>
<text x="1817.4" y="2508.9" font-size="68" font-family='"Liberation Sans", "DejaVu Sans", sans-serif' fill="#21222d" textLength="114" lengthAdjust="spacingAndGlyphs">bcd</text>
<text x="1956.9" y="2666.3" font-size="68" font-family='"Liberation Sans", "DejaVu Sans", sans-serif' fill="#21222d" textLength="74.7" lengthAdjust="spacingAndGlyphs">bc</text>
<text x="2104.4" y="2882.1" font-size="68" font-family='"Liberation Sans", "DejaVu Sans", sans-serif' fill="#21222d" textLength="39.3" lengthAdjust="spacingAndGlyphs">e</text>
<text x="2176.5" y="2902.8" font-size="68" font-family='"Liberation Sans", "DejaVu Sans", sans-serif' fill="#21222d" textLength="39.3" lengthAdjust="spacingAndGlyphs">e</text>
<text transform="translate(61 3022.6) rotate(-90)" font-size="72" font-weight="bold" font-family='"Liberation Sans", "DejaVu Sans", sans-serif' fill="#1b1b22" textLength="56.3" lengthAdjust="spacingAndGlyphs">%</text>
<text transform="translate(61 2947.9) rotate(-90)" font-size="72" font-weight="bold" font-family='"Liberation Sans", "DejaVu Sans", sans-serif' fill="#1b1b22" textLength="205.1" lengthAdjust="spacingAndGlyphs">COX-2</text>
<text transform="translate(61 2723) rotate(-90)" font-size="72" font-weight="bold" font-family='"Liberation Sans", "DejaVu Sans", sans-serif' fill="#1b1b22" textLength="473.2" lengthAdjust="spacingAndGlyphs">Concentration</text>
</g>
<g id="panel-d" filter="url(#soft)">
<path d="M280.8 3231.3V4170M255.3 4144.5H2305.5M255.3 3991.4H280.8M255.3 3840.2H280.8M255.3 3690.5H280.8M255.3 3538H280.8M255.3 3387.3H280.8M255.3 3233.2H280.8M533.5 4144.5V4170M788.9 4144.5V4170M1042 4144.5V4170M1295.8 4144.5V4170M1548.9 4144.5V4170M1799 4144.5V4170M2050.5 4144.5V4170M2303.6 4144.5V4170" stroke="#8e8e8e" stroke-width="3.8" fill="none"/>
<rect x="332.8" y="3976.9" width="78.7" height="167.1" fill="#fff"/>
<path d="M332.8 3976.9H411.5V4144H332.8ZM340.3 3984.4V4141H404V3984.4Z" fill="#0a0a0a" fill-rule="evenodd"/>
<rect x="586.5" y="3381.7" width="77" height="762.3" fill="#0e0e0e"/>
<g transform="translate(923.9 3750)"><rect x="-9.4" y="-8" width="75.5" height="402" fill="url(#dtd)"/></g>
<path d="M914.5 3742H990V4144H914.5ZM920.5 3748V4141H983.5V3748Z" fill="#0a0a0a" fill-rule="evenodd"/>
<g transform="translate(845.9 3617.6)"><rect x="-7.7" y="-49.1" width="82.3" height="575.5" fill="url(#ckd)"/></g>
<path d="M838.2 3568.5H920.5V4144H838.2ZM846.7 3576V4141H913V3576Z" fill="#0a0a0a" fill-rule="evenodd"/>
<g transform="translate(1175.9 3750)"><rect x="-9.4" y="-40.1" width="76.8" height="434.1" fill="url(#dtd)"/></g>
<path d="M1166.5 3709.9H1243.3V4144H1166.5ZM1172.5 3715.9V4141H1236.8V3715.9Z" fill="#0a0a0a" fill-rule="evenodd"/>
<g transform="translate(1076.2 3617.6)"><rect x="15.3" y="45.2" width="81" height="481.2" fill="url(#ckd)"/></g>
<path d="M1091.5 3662.8H1172.5V4144H1091.5ZM1100 3670.3V4141H1165V3670.3Z" fill="#0a0a0a" fill-rule="evenodd"/>
<g transform="translate(1429.9 3750)"><rect x="-9.4" y="23.6" width="75.1" height="370.4" fill="url(#dtd)"/></g>
<path d="M1420.5 3773.6H1495.6V4144H1420.5ZM1426.5 3779.6V4141H1489.1V3779.6Z" fill="#0a0a0a" fill-rule="evenodd"/>
<g transform="translate(1352 3617.6)"><rect x="-7.7" y="61.8" width="82.2" height="464.6" fill="url(#ckd)"/></g>
<path d="M1344.3 3679.4H1426.5V4144H1344.3ZM1352.8 3686.9V4141H1419V3686.9Z" fill="#0a0a0a" fill-rule="evenodd"/>
<g transform="translate(1677.9 3750)"><rect x="-9.4" y="-110.8" width="80.5" height="504.8" fill="url(#dtd)"/></g>
<path d="M1668.5 3639.2H1749V4144H1668.5ZM1674.5 3645.2V4141H1742.5V3645.2Z" fill="#0a0a0a" fill-rule="evenodd"/>
<g transform="translate(1582.7 3617.6)"><rect x="15.3" y="-100.7" width="76.5" height="627.1" fill="url(#ckd)"/></g>
<path d="M1598 3516.9H1674.5V4144H1598ZM1606.5 3524.4V4141H1667V3524.4Z" fill="#0a0a0a" fill-rule="evenodd"/>
<g transform="translate(1931.9 3750)"><rect x="-9.4" y="-15.5" width="78" height="409.5" fill="url(#dtd)"/></g>
<path d="M1922.5 3734.5H2000.5V4144H1922.5ZM1928.5 3740.5V4141H1994V3740.5Z" fill="#0a0a0a" fill-rule="evenodd"/>
<g transform="translate(1858.4 3617.6)"><rect x="-7.7" y="-41.1" width="77.8" height="567.5" fill="url(#ckd)"/></g>
<path d="M1850.7 3576.5H1928.5V4144H1850.7ZM1859.2 3584V4141H1921V3584Z" fill="#0a0a0a" fill-rule="evenodd"/>
<g transform="translate(2184.4 3750)"><rect x="-9.4" y="-126.5" width="78.8" height="520.5" fill="url(#dtd)"/></g>
<path d="M2175 3623.5H2253.8V4144H2175ZM2181 3629.5V4141H2247.3V3629.5Z" fill="#0a0a0a" fill-rule="evenodd"/>
<g transform="translate(2088.1 3617.6)"><rect x="15.3" y="-53.7" width="77.6" height="580.1" fill="url(#ckd)"/></g>
<path d="M2103.4 3563.9H2181V4144H2103.4ZM2111.9 3571.4V4141H2173.5V3571.4Z" fill="#0a0a0a" fill-rule="evenodd"/>
<path d="M879.2 3534.2V3605.7M861.2 3534.2H897.2M861.2 3605.7H897.2" stroke="#2b2b2b" stroke-width="4" fill="none"/>
<path d="M951.2 3680.5V3806.9M933.2 3680.5H969.2M933.2 3806.9H969.2" stroke="#2b2b2b" stroke-width="4" fill="none"/>
<path d="M1131.4 3576.8V3751.5M1113.4 3576.8H1149.4M1113.4 3751.5H1149.4" stroke="#2b2b2b" stroke-width="4" fill="none"/>
<path d="M1204.5 3672.2V3754.2M1186.5 3672.2H1222.5M1186.5 3754.2H1222.5" stroke="#2b2b2b" stroke-width="4" fill="none"/>
<path d="M1385.8 3648.9V3714.3M1367.8 3648.9H1403.8M1367.8 3714.3H1403.8" stroke="#2b2b2b" stroke-width="4" fill="none"/>
<path d="M1456.8 3727.6V3824.6M1438.8 3727.6H1474.8M1438.8 3824.6H1474.8" stroke="#2b2b2b" stroke-width="4" fill="none"/>
<path d="M1639.2 3438.5V3600.3M1621.2 3438.5H1657.2M1621.2 3600.3H1657.2" stroke="#2b2b2b" stroke-width="4" fill="none"/>
<path d="M1712 3632.9V3651.7M1694 3632.9H1730M1694 3651.7H1730" stroke="#2b2b2b" stroke-width="4" fill="none"/>
<path d="M1892 3546.4V3614.1M1874 3546.4H1910M1874 3614.1H1910" stroke="#2b2b2b" stroke-width="4" fill="none"/>
<path d="M1964.1 3719.5V3755.2M1946.1 3719.5H1982.1M1946.1 3755.2H1982.1" stroke="#2b2b2b" stroke-width="4" fill="none"/>
<path d="M2142.8 3546.4V3589M2124.8 3546.4H2160.8M2124.8 3589H2160.8" stroke="#2b2b2b" stroke-width="4" fill="none"/>
<path d="M2216.8 3597.2V3651.7M2198.8 3597.2H2234.8M2198.8 3651.7H2234.8" stroke="#2b2b2b" stroke-width="4" fill="none"/>
<text x="175" y="4166" font-size="66" font-family='"Liberation Sans", "DejaVu Sans", sans-serif' fill="#21222d" textLength="38.2" lengthAdjust="spacingAndGlyphs">0</text>
<text x="136.9" y="4012.9" font-size="66" font-family='"Liberation Sans", "DejaVu Sans", sans-serif' fill="#21222d" textLength="76.4" lengthAdjust="spacingAndGlyphs">20</text>
<text x="136.9" y="3861.7" font-size="66" font-family='"Liberation Sans", "DejaVu Sans", sans-serif' fill="#21222d" textLength="76.4" lengthAdjust="spacingAndGlyphs">40</text>
<text x="136.9" y="3712" font-size="66" font-family='"Liberation Sans", "DejaVu Sans", sans-serif' fill="#21222d" textLength="76.4" lengthAdjust="spacingAndGlyphs">60</text>
<text x="136.9" y="3559.5" font-size="66" font-family='"Liberation Sans", "DejaVu Sans", sans-serif' fill="#21222d" textLength="76.4" lengthAdjust="spacingAndGlyphs">80</text>
<text x="98.6" y="3408.8" font-size="66" font-family='"Liberation Sans", "DejaVu Sans", sans-serif' fill="#21222d" textLength="114.5" lengthAdjust="spacingAndGlyphs">100</text>
<text x="98.6" y="3254.7" font-size="66" font-family='"Liberation Sans", "DejaVu Sans", sans-serif' fill="#21222d" textLength="114.5" lengthAdjust="spacingAndGlyphs">120</text>
<text x="353.6" y="3929" font-size="68" font-family='"Liberation Sans", "DejaVu Sans", sans-serif' fill="#21222d" textLength="39.3" lengthAdjust="spacingAndGlyphs">g</text>
<text x="604.1" y="3334" font-size="68" font-family='"Liberation Sans", "DejaVu Sans", sans-serif' fill="#21222d" textLength="39.3" lengthAdjust="spacingAndGlyphs">a</text>
<text x="841.7" y="3492" font-size="68" font-family='"Liberation Sans", "DejaVu Sans", sans-serif' fill="#21222d" textLength="74.7" lengthAdjust="spacingAndGlyphs">bc</text>
<text x="945.5" y="3646" font-size="68" font-family='"Liberation Sans", "DejaVu Sans", sans-serif' fill="#21222d" textLength="59" lengthAdjust="spacingAndGlyphs">ef</text>
<text x="1063" y="3543.6" font-size="68" font-family='"Liberation Sans", "DejaVu Sans", sans-serif' fill="#21222d" textLength="133.7" lengthAdjust="spacingAndGlyphs">cdef</text>
<text x="1161.1" y="3625.6" font-size="68" font-family='"Liberation Sans", "DejaVu Sans", sans-serif' fill="#21222d" textLength="98.3" lengthAdjust="spacingAndGlyphs">def</text>
<text x="1315.2" y="3593.5" font-size="68" font-family='"Liberation Sans", "DejaVu Sans", sans-serif' fill="#21222d" textLength="133.7" lengthAdjust="spacingAndGlyphs">cdef</text>
<text x="1459.1" y="3679.4" font-size="68" font-family='"Liberation Sans", "DejaVu Sans", sans-serif' fill="#21222d" textLength="19.6" lengthAdjust="spacingAndGlyphs">f</text>
<text x="1604.9" y="3394.6" font-size="68" font-family='"Liberation Sans", "DejaVu Sans", sans-serif' fill="#21222d" textLength="78.7" lengthAdjust="spacingAndGlyphs">ab</text>
<text x="1676.6" y="3589" font-size="68" font-family='"Liberation Sans", "DejaVu Sans", sans-serif' fill="#21222d" textLength="153.4" lengthAdjust="spacingAndGlyphs">bcde</text>
<text x="1833.1" y="3502.5" font-size="68" font-family='"Liberation Sans", "DejaVu Sans", sans-serif' fill="#21222d" textLength="114" lengthAdjust="spacingAndGlyphs">bcd</text>
<text x="1955" y="3659.2" font-size="68" font-family='"Liberation Sans", "DejaVu Sans", sans-serif' fill="#21222d" textLength="59" lengthAdjust="spacingAndGlyphs">ef</text>
<text x="2104.2" y="3509.4" font-size="68" font-family='"Liberation Sans", "DejaVu Sans", sans-serif' fill="#21222d" textLength="74.7" lengthAdjust="spacingAndGlyphs">bc</text>
<text x="2189.8" y="3551.4" font-size="68" font-family='"Liberation Sans", "DejaVu Sans", sans-serif' fill="#21222d" textLength="153.4" lengthAdjust="spacingAndGlyphs">cdde</text>
<text transform="translate(56.5 4048.7) rotate(-90)" font-size="72" font-weight="bold" font-family='"Liberation Sans", "DejaVu Sans", sans-serif' fill="#1b1b22" textLength="56.3" lengthAdjust="spacingAndGlyphs">%</text>
<text transform="translate(56.5 3973.1) rotate(-90)" font-size="72" font-weight="bold" font-family='"Liberation Sans", "DejaVu Sans", sans-serif' fill="#1b1b22" textLength="131.8" lengthAdjust="spacingAndGlyphs">PGE</text>
<text transform="translate(77 3839.4) rotate(-90)" font-size="51" font-weight="bold" font-family='"Liberation Sans", "DejaVu Sans", sans-serif' fill="#1b1b22" textLength="26.3" lengthAdjust="spacingAndGlyphs">2</text>
<text transform="translate(56.5 3794.8) rotate(-90)" font-size="72" font-weight="bold" font-family='"Liberation Sans", "DejaVu Sans", sans-serif' fill="#1b1b22" textLength="465.5" lengthAdjust="spacingAndGlyphs">concentration</text>
</g>
<g id="legend" filter="url(#soft)">
<rect x="1787.9" y="11.5" width="50.8" height="51.7" rx="2" fill="#0c0c0c"/>
<rect x="1796" y="19.2" width="18.8" height="15.8" fill="#fff"/>
<rect x="1816.1" y="35.9" width="15.4" height="19.6" fill="#fff"/>
<text x="1852.5" y="58.8" font-size="65" font-family='"Liberation Sans", "DejaVu Sans", sans-serif' fill="#21222d" textLength="306.7" lengthAdjust="spacingAndGlyphs">10  µg/mL</text>
<rect x="1787.9" y="149.9" width="50.8" height="46.5" rx="2" fill="#0c0c0c"/>
<rect x="1796.5" y="157.1" width="36.3" height="32.5" fill="#fff"/>
<rect x="1803.3" y="166.5" width="3.4" height="14.5" fill="#555"/>
<rect x="1815.5" y="162.5" width="4" height="3.5" fill="#444"/>
<rect x="1815.5" y="181.5" width="4" height="3.5" fill="#444"/>
<rect x="1829" y="166.5" width="4" height="14.5" fill="#0c0c0c"/>
<text x="1852.4" y="196.5" font-size="65" font-family='"Liberation Sans", "DejaVu Sans", sans-serif' fill="#21222d" textLength="330.1" lengthAdjust="spacingAndGlyphs">100 µg/mL</text>
</g>
<g id="xlabels" filter="url(#soft)">
<text x="327.5" y="4276" font-size="73" font-family='"Liberation Sans", "DejaVu Sans", sans-serif' fill="#1b1b22" font-weight="bold" textLength="162.2" lengthAdjust="spacingAndGlyphs">Cont</text>
<text x="603.9" y="4276" font-size="73" font-family='"Liberation Sans", "DejaVu Sans", sans-serif' fill="#1b1b22" font-weight="bold" textLength="118.2" lengthAdjust="spacingAndGlyphs">LPS</text>
<text x="870.1" y="4276" font-size="73" font-family='"Liberation Sans", "DejaVu Sans", sans-serif' fill="#1b1b22" font-weight="bold" textLength="90.8" lengthAdjust="spacingAndGlyphs">BR</text>
<text x="1126.8" y="4276" font-size="73" font-family='"Liberation Sans", "DejaVu Sans", sans-serif' fill="#1b1b22" font-weight="bold" textLength="83.4" lengthAdjust="spacingAndGlyphs">BL</text>
<text x="1382.6" y="4276" font-size="73" font-family='"Liberation Sans", "DejaVu Sans", sans-serif' fill="#1b1b22" font-weight="bold" textLength="76.6" lengthAdjust="spacingAndGlyphs">IG</text>
<text x="1626.6" y="4276" font-size="73" font-family='"Liberation Sans", "DejaVu Sans", sans-serif' fill="#1b1b22" font-weight="bold" textLength="97.4" lengthAdjust="spacingAndGlyphs">TN</text>
<text x="1836.5" y="4276" font-size="73" font-family='"Liberation Sans", "DejaVu Sans", sans-serif' fill="#1b1b22" font-weight="bold" textLength="174.5" lengthAdjust="spacingAndGlyphs">Diclo</text>
<text x="2084.9" y="4276" font-size="73" font-family='"Liberation Sans", "DejaVu Sans", sans-serif' fill="#1b1b22" font-weight="bold" textLength="186" lengthAdjust="spacingAndGlyphs">Nime</text>
</g>
<g id="panel-letters">
<text x="2329.9" y="116.3" font-size="79" font-family='"Liberation Serif", "DejaVu Serif", serif' fill="#0d0d0d">A</text>
<text x="2333.1" y="1172.2" font-size="79" font-family='"Liberation Serif", "DejaVu Serif", serif' fill="#0d0d0d">B</text>
<text x="2332.1" y="2204.9" font-size="79" font-family='"Liberation Serif", "DejaVu Serif", serif' fill="#0d0d0d">C</text>
<text x="2346" y="3329.2" font-size="80" font-family='"Liberation Serif", "DejaVu Serif", serif' fill="#0d0d0d">D</text>
</g>
</svg>
</body>
</html>
